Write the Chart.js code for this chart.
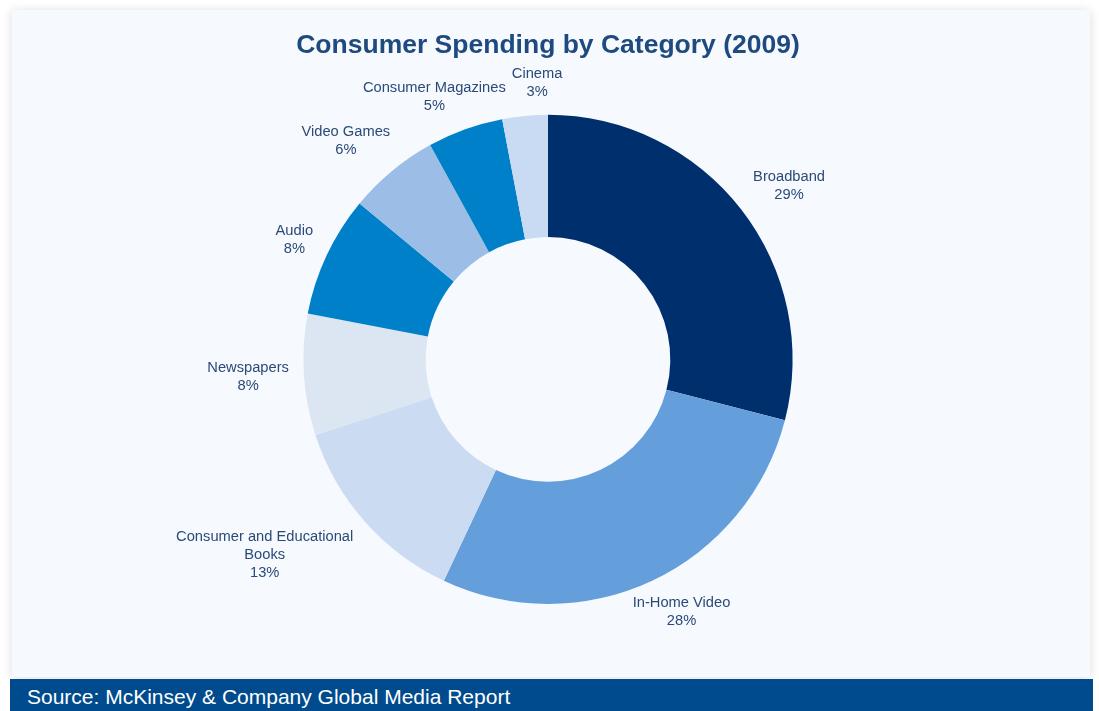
<!DOCTYPE html>
<html>
<head>
<meta charset="utf-8">
<title>Consumer Spending by Category (2009)</title>
<script src="https://cdn.jsdelivr.net/npm/chart.js@4/dist/chart.umd.min.js"></script>
<style>
  html, body { margin: 0; padding: 0; background: #ffffff; }
  body { width: 1099px; height: 711px; position: relative; overflow: hidden;
         font-family: "Liberation Sans", Arial, Helvetica, sans-serif; }
  #card { position: absolute; left: 12px; top: 10px; width: 1078px; height: 667px;
          background: #f6f9fd; box-shadow: 0 1px 10px rgba(0,0,0,0.14); }
  #chartWrap { position: absolute; left: 0; top: 0; width: 1096px; height: 678px; }
  #footer { position: absolute; left: 10px; top: 679px; width: 1083px; height: 32px;
            background: #004b8d; color: #ffffff; font-size: 21px; line-height: 35px;
            padding-left: 17px; box-sizing: border-box; white-space: nowrap; }
</style>
</head>
<body>
<div id="card"></div>
<div id="chartWrap"><canvas id="chart" width="1096" height="678"></canvas></div>
<div id="footer">Source: McKinsey &amp; Company Global Media Report</div>
<script>
// Share of consumer spending by category, 2009 (percent)
const categories = [
  ["Broadband"],
  ["In-Home Video"],
  ["Consumer and Educational", "Books"],
  ["Newspapers"],
  ["Audio"],
  ["Video Games"],
  ["Consumer Magazines"],
  ["Cinema"]
];
const shares = [29, 28, 13, 8, 8, 6, 5, 3];

const sliceColors = ["#002f6e", "#659fdb", "#cbdcf2", "#dce6f2", "#0080c8", "#9bbde6", "#0080c8", "#c9dbf2"];

const FONT = '"Liberation Sans", Arial, Helvetica, sans-serif';

// Outside labels: name line(s) plus percentage, placed beyond each arc's mid-angle,
// then nudged apart wherever two label boxes would collide.
const outsideLabels = {
  id: 'outsideLabels',
  afterDatasetsDraw(chart) {
    const ctx = chart.ctx;
    const meta = chart.getDatasetMeta(0);
    const fontSize = 14.7, lineH = 18, offset = 15, gap = 6;
    ctx.save();
    ctx.font = fontSize + 'px ' + FONT;
    ctx.fillStyle = '#2b4a78';
    ctx.textAlign = 'center';
    ctx.textBaseline = 'middle';

    const boxes = meta.data.map((arc, i) => {
      const p = arc.getProps(['x', 'y', 'startAngle', 'endAngle', 'outerRadius'], true);
      const mid = (p.startAngle + p.endAngle) / 2;
      const vx = Math.cos(mid), vy = Math.sin(mid);
      const lines = categories[i].concat([shares[i] + '%']);
      const w = Math.max(...lines.map(l => ctx.measureText(l).width));
      const h = lines.length * lineH;
      const s = 1 / Math.max(Math.abs(vx), Math.abs(vy));
      return {
        lines, w, h,
        cx: p.x + vx * p.outerRadius + (w / 2) * vx * s + offset * vx,
        cy: p.y + vy * p.outerRadius + (h / 2) * vy * s + offset * vy
      };
    });

    // push later labels away from earlier ones along the cheaper axis
    for (let j = 1; j < boxes.length; j++) {
      for (let i = 0; i < j; i++) {
        const a = boxes[i], b = boxes[j];
        const ox = (a.w + b.w) / 2 + gap - Math.abs(a.cx - b.cx);
        const oy = (a.h + b.h) / 2 - Math.abs(a.cy - b.cy);
        if (ox > 0 && oy > 0) {
          if (ox <= oy) b.cx += (b.cx >= a.cx ? 1 : -1) * ox;
          else b.cy += (b.cy >= a.cy ? 1 : -1) * oy;
        }
      }
    }

    boxes.forEach(b => {
      b.lines.forEach((l, k) => {
        ctx.fillText(l, b.cx, b.cy - b.h / 2 + lineH / 2 + k * lineH);
      });
    });
    ctx.restore();
  }
};

new Chart(document.getElementById('chart'), {
  type: 'doughnut',
  data: {
    labels: categories.map(c => c.join(' ')),
    datasets: [{
      data: shares,
      backgroundColor: sliceColors,
      borderWidth: 0
    }]
  },
  options: {
    responsive: false,
    animation: false,
    cutout: '50%',
    layout: { padding: { top: 0, bottom: 74, left: 0, right: 0 } },
    plugins: {
      legend: { display: false },
      tooltip: { enabled: false },
      title: {
        display: true,
        text: 'Consumer Spending by Category (2009)',
        color: '#1f4a80',
        font: { family: FONT, size: 26.5, weight: 'bold' },
        padding: { top: 30, bottom: 53 }
      }
    }
  },
  plugins: [outsideLabels]
});
</script>
</body>
</html>
